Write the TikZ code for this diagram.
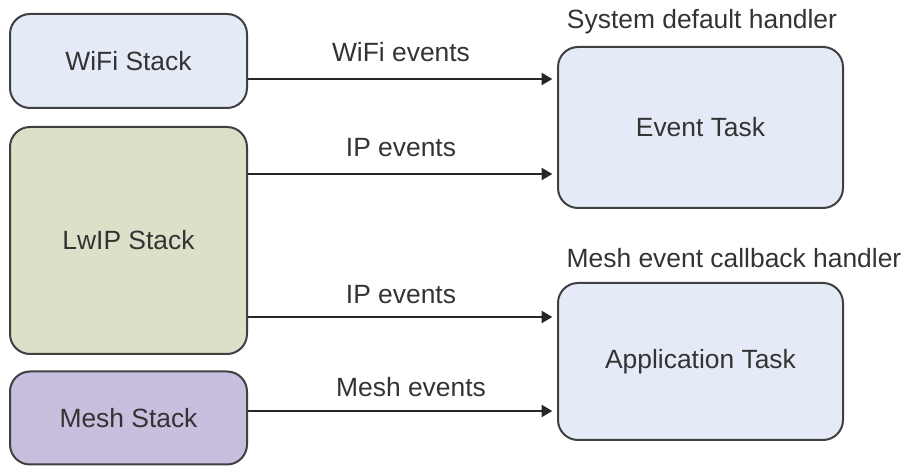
\documentclass[tikz,border=0pt]{standalone}
\usepackage{fontspec}
\setmainfont{Liberation Sans}
\usetikzlibrary{arrows.meta}
\definecolor{txt}{HTML}{333333}
\definecolor{edge}{HTML}{404040}
\definecolor{wififill}{HTML}{E4EAF6}
\definecolor{lwipfill}{HTML}{DCE0C8}
\definecolor{meshfill}{HTML}{C8BEDE}
\definecolor{taskfill}{HTML}{E5EBF6}
\tikzset{
  box/.style={draw=edge, line width=1.5pt, rounded corners=15pt, inner sep=0pt, text=txt, font=\fontsize{19.8}{23}\selectfont},
  lbl/.style={text=txt, font=\fontsize{19.8}{23}\selectfont, inner sep=0pt},
  arr/.style={draw=black!85, line width=1.5pt, -{Triangle[length=8pt,width=9pt]}, shorten >=3.5pt}
}
\begin{document}
\begin{tikzpicture}[x=0.75pt,y=-0.75pt]
\useasboundingbox (0,0) rectangle (908,466);
\node[box, fill=wififill, minimum width=177.75pt, minimum height=70.5pt] (wifi) at (128.5,61) {WiFi Stack};
\node[box, fill=lwipfill, minimum width=177.75pt, minimum height=170.25pt] (lwip) at (128.5,240.5) {LwIP Stack};
\node[box, fill=meshfill, minimum width=177.75pt, minimum height=69.75pt] (mesh) at (128.5,418) {Mesh Stack};
\node[box, fill=taskfill, minimum width=213.75pt, minimum height=120.75pt] (event) at (700.5,127.5) {Event Task};
\node[box, fill=taskfill, minimum width=213.75pt, minimum height=117.75pt] (app) at (700.5,361.5) {Application Task};
\node[lbl] (sysh) at (702,22) {System default handler};
\node[lbl] (meshh) at (734,258) {Mesh event callback handler};
\coordinate (y1) at (0,79);
\coordinate (y2) at (0,174);
\coordinate (y3) at (0,317);
\coordinate (y4) at (0,411);
\draw[arr] (wifi.east |- y1) -- (event.west |- y1);
\draw[arr] (lwip.east |- y2) -- (event.west |- y2);
\draw[arr] (lwip.east |- y3) -- (app.west |- y3);
\draw[arr] (mesh.east |- y4) -- (app.west |- y4);
\node[lbl] (l1) at (401,52) {WiFi events};
\node[lbl] (l2) at (401,148) {IP events};
\node[lbl] (l3) at (401,295) {IP events};
\node[lbl] (l4) at (411,387) {Mesh events};
\end{tikzpicture}
\end{document}
